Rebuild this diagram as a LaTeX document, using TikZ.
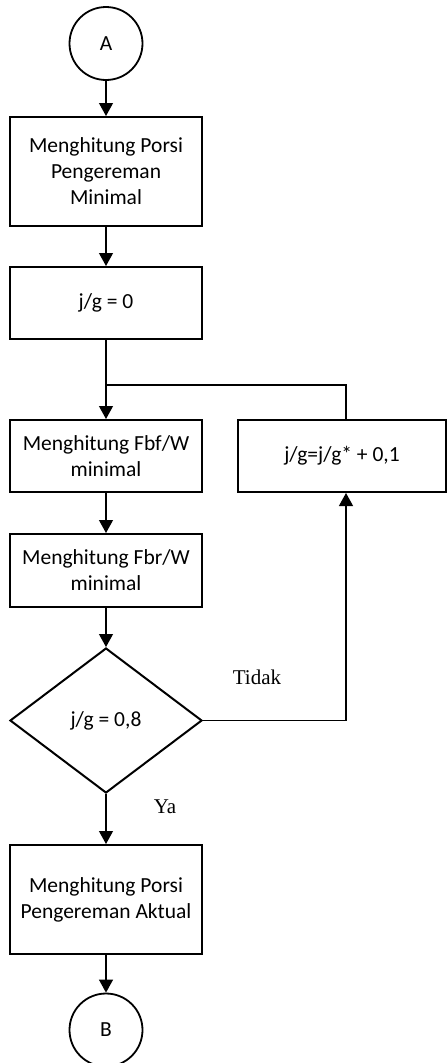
\documentclass[tikz,border=0pt]{standalone}
\usepackage{fontspec}
\setmainfont{Carlito}
\newfontfamily\tnr{Liberation Serif}
\usetikzlibrary{arrows.meta,shapes.geometric}
\begin{document}
\begin{tikzpicture}[x=1pt,y=-1pt,
  every node/.style={font=\fontsize{21.5}{26}\selectfont},
  proc/.style={draw,line width=2pt,rectangle,inner sep=0pt,align=center,minimum width=192pt},
  conn/.style={draw,line width=1.2pt},
  term/.style={draw,line width=1.8pt,circle,inner sep=0pt,minimum size=73pt},
  dec/.style={draw,line width=2pt,diamond,inner sep=0pt,minimum width=192pt,minimum height=145pt},
  lab/.style={font=\tnr\fontsize{21}{25}\selectfont},
  arr/.style={conn,-{Triangle[width=14pt,length=13pt]}}]
\useasboundingbox (0,0) rectangle (447,1063);
\node[term] (A) at (106,43.5) {A};
\node[proc,minimum height=109pt] (b1) at (106,171.5) {Menghitung Porsi\\Pengereman\\Minimal};
\node[proc,minimum height=72pt] (b2) at (106,303) {j/g = 0};
\node[proc,minimum height=72pt] (b3) at (106,456) {Menghitung Fbf/W\\minimal};
\node[proc,minimum height=72pt,minimum width=208pt] (bR) at (342,456) {j/g=j/g* + 0,1};
\node[proc,minimum height=73pt] (b4) at (106,570.5) {Menghitung Fbr/W\\minimal};
\node[dec] (D) at (106,720.5) {j/g = 0,8};
\node[proc,minimum height=109pt] (b5) at (106,899.5) {Menghitung Porsi\\Pengereman Aktual};
\node[term] (B) at (106,1030) {B};
\node[lab] (tidak) at (257,677) {Tidak};
\node[lab] (ya) at (165,807) {Ya};
\coordinate (J) at (106,385);
\coordinate (K) at (346,385);
\coordinate (L) at (346,720.5);
\draw[arr] (A) -- (b1);
\draw[arr] (b1) -- (b2);
\draw[conn] (b2) -- (J);
\draw[arr] (J) -- (b3);
\draw[conn] (bR.north -| K) -- (K) -- (J);
\draw[arr] (b3) -- (b4);
\draw[arr] (b4) -- (D);
\draw[arr] (D.east) -- (L) -- (bR.south -| L);
\draw[arr] (D) -- (b5);
\draw[arr] (b5) -- (B);
\end{tikzpicture}
\end{document}
